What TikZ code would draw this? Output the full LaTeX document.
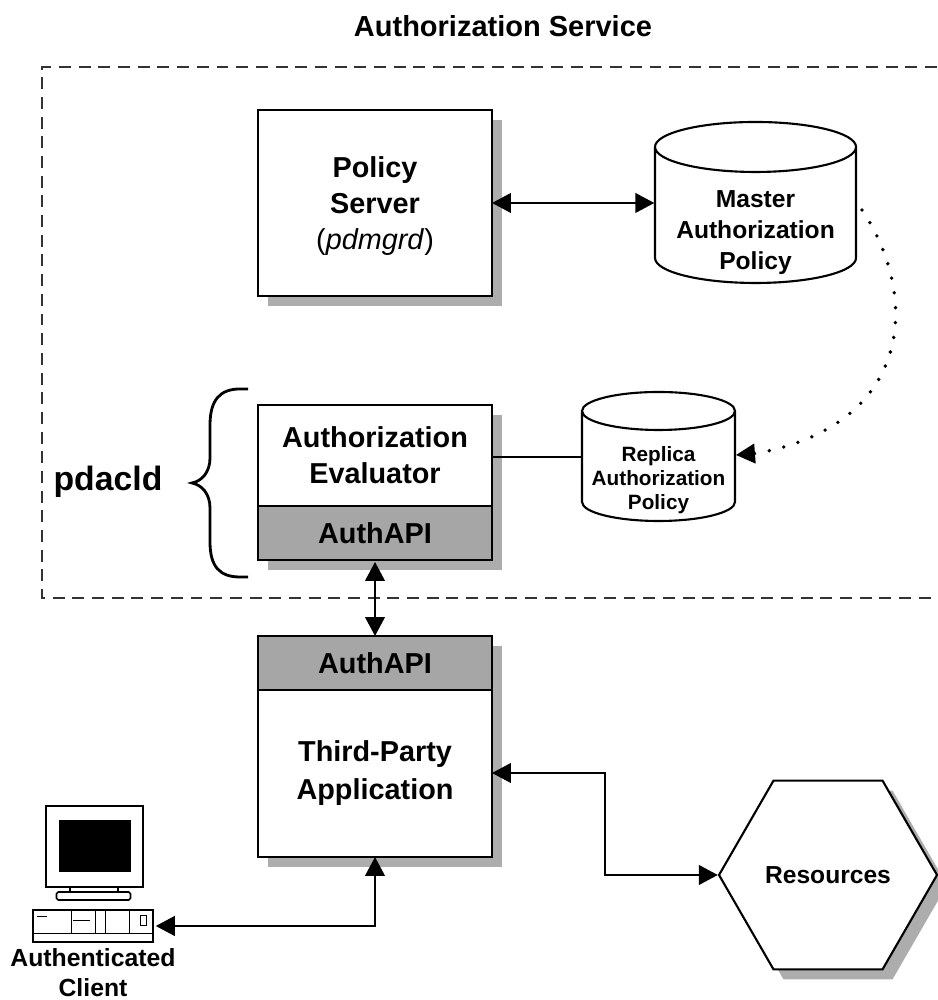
\documentclass[tikz,border=0pt]{standalone}
\usepackage{fontspec}
\setmainfont{Liberation Sans}
\usetikzlibrary{arrows.meta,shadows,shapes.geometric}

\tikzset{
  >={Triangle[length=5.4pt,width=5.6pt]},
  shadowbox/.style={copy shadow={fill=black!32,draw=none,shadow xshift=0.10cm,shadow yshift=-0.10cm}},
  plainbox/.style={draw,line width=0.6pt,fill=white,minimum width=2.34cm,inner sep=0pt,outer sep=0pt,align=center,font=\bfseries\fontsize{8.2}{10.2}\selectfont},
  apibox/.style={plainbox,fill=black!35,minimum height=0.54cm},
  wire/.style={line width=0.6pt},
  thin wire/.style={line width=0.45pt}
}

\begin{document}
\begin{tikzpicture}
\useasboundingbox (0,0) rectangle (9.37,10);

\node (title) at (5.03,9.74) {\bfseries\fontsize{8.25}{9}\selectfont Authorization Service};

\coordinate (dashtr) at (9.37,9.33);
\coordinate (dashtl) at (0.42,9.33);
\coordinate (dashbl) at (0.42,4.02);
\coordinate (dashbr) at (9.37,4.02);
\draw[wire,black!80,dash pattern=on 3.4pt off 2.2pt] (dashtr) -- (dashtl) -- (dashbl) -- (dashbr);

\node[plainbox,shadowbox,minimum height=1.86cm] (policy) at (3.75,7.97) {\rule{0pt}{7.7pt}Policy\\Server\\\mdseries(\textit{pdmgrd})};

\node[plainbox,shadowbox,minimum height=1.55cm,anchor=north] (evalall) at (3.75,5.95) {};
\node[plainbox,minimum height=1.01cm,anchor=north] (evaluator) at (3.75,5.95) {Authorization\\Evaluator};
\node[apibox,anchor=north] (evalapi) at (evaluator.south) {AuthAPI};

\node[plainbox,shadowbox,minimum height=2.21cm,anchor=north] (appall) at (3.75,3.64) {};
\node[apibox,anchor=north] (appapi) at (3.75,3.64) {AuthAPI};
\node[plainbox,draw=none,fill=none,anchor=north,minimum height=1.67cm,font=\bfseries\fontsize{8.2}{10.8}\selectfont] (app) at (appapi.south) {Third-Party\\Application};

\draw[wire] (6.55,8.53) arc[start angle=180,end angle=540,x radius=1.005,y radius=0.25] -- (6.55,7.42) arc[start angle=180,end angle=360,x radius=1.005,y radius=0.25] -- (8.56,8.53);
\node[align=center,inner sep=0pt,minimum width=2.01cm,font=\bfseries\fontsize{7}{8.9}\selectfont] (master) at (7.555,7.675) {Master\\Authorization\\Policy};
\draw[wire] (5.82,5.89) arc[start angle=180,end angle=540,x radius=0.765,y radius=0.19] -- (5.82,4.98) arc[start angle=180,end angle=360,x radius=0.765,y radius=0.19] -- (7.35,5.89);
\node[align=center,inner sep=0pt,minimum width=1.53cm,font=\bfseries\fontsize{5.9}{6.8}\selectfont] (replica) at (6.585,5.20) {Replica\\Authorization\\Policy};

\node[regular polygon,regular polygon sides=6,minimum size=2.18cm,inner sep=0pt,draw,wire,fill=white,shadowbox,font=\bfseries\fontsize{7}{8}\selectfont] (res) at (8.28,1.25) {Resources};

\node[font=\bfseries\fontsize{9.6}{11}\selectfont] (pdacld) at (1.08,5.18) {pdacld};
\draw[line width=0.8pt] (2.48,6.11) -- (2.40,6.11) .. controls (2.20,6.11) and (2.10,6.0) .. (2.10,5.75) -- (2.10,5.42) .. controls (2.10,5.28) and (2.02,5.19) .. (1.92,5.17) .. controls (2.02,5.15) and (2.10,5.06) .. (2.10,4.92) -- (2.10,4.58) .. controls (2.10,4.33) and (2.20,4.23) .. (2.40,4.23) -- (2.48,4.23);

\coordinate (evalout) at (4.92,5.43);
\draw[wire,<->] (policy) -- (master.west |- policy);
\draw[thin wire] (evalout) -- (replica.west |- evalout);
\draw[wire,<->] (evalapi.south) ++(0,-0.02) coordinate (apitop) (apitop) -- (appapi.north);

\coordinate (master out) at (8.62,7.9);
\coordinate (replica in) at (7.36,5.45);
\draw[line width=1.1pt,line cap=round,dash pattern=on 0pt off 4.25pt] (master out) .. controls (9.22,7.0) and (9.1,5.75) .. (7.58,5.47);
\draw[wire,->] (7.56,5.465) -- (replica in);

\coordinate (bend1) at (6.05,2.27);
\coordinate (bend2) at (6.05,1.25);
\draw[wire,<->] (app.east |- bend1) -- (bend1) -- (bend2) -- (res.west |- bend2);

% client
\node[draw,wire,fill=white,minimum width=0.97cm,minimum height=0.81cm,inner sep=0pt] (monitor) at (0.945,1.535) {};
\node[fill=black,minimum width=0.72cm,minimum height=0.52cm,inner sep=0pt] (screen) at (monitor.center) {};
\node[draw,thin wire,fill=white,rounded corners=0.5pt,minimum width=0.74cm,minimum height=0.08cm,inner sep=0pt] (stand) at (0.935,1.04) {};
\draw[thin wire] (0.70,1.13) -- (0.70,1.08);
\draw[thin wire] (1.18,1.13) -- (1.18,1.08);
\node[draw,thin wire,fill=white,minimum width=1.20cm,minimum height=0.32cm,inner sep=0pt] (cpu) at (0.93,0.74) {};
\draw[line width=0.25pt] (0.33,0.67) -- (1.53,0.67);
\foreach \x in {0.71,0.95,1.05,1.29} {
  \draw[line width=0.25pt] (\x,0.67) -- (\x,0.9);
}
\draw[line width=0.25pt] (0.73,0.80) -- (0.90,0.80);
\draw[line width=0.25pt] (1.40,0.75) rectangle (1.46,0.85);
\draw[line width=0.25pt] (0.37,0.84) -- (0.47,0.84);

\node[align=center,font=\bfseries\fontsize{7.05}{8.5}\selectfont] (client) at (0.93,0.27) {Authenticated\\Client};

\coordinate (corner) at (3.75,0.74);
\draw[wire,<->] (cpu.east) ++(0.02,0) coordinate (cpuin) (cpuin) -- (corner) -- (appall.south);
\end{tikzpicture}
\end{document}
